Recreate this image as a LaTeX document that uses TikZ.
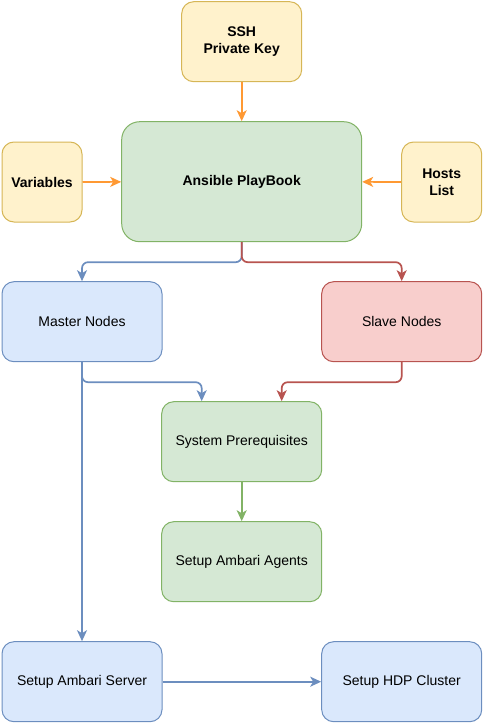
\documentclass[tikz,border=0pt]{standalone}
\usepackage{fontspec}
\setmainfont{Liberation Sans}
\usetikzlibrary{arrows.meta}
\definecolor{yfill}{HTML}{FFF2CC}\definecolor{ydraw}{HTML}{D6B656}
\definecolor{gfill}{HTML}{D5E8D4}\definecolor{gdraw}{HTML}{82B366}
\definecolor{bfill}{HTML}{DAE8FC}\definecolor{bdraw}{HTML}{6C8EBF}
\definecolor{rfill}{HTML}{F8CECC}\definecolor{rdraw}{HTML}{B85450}
\definecolor{orng}{HTML}{FF9933}
\tikzset{
  box/.style={draw, line width=1pt, rounded corners=12pt, minimum width=160pt, minimum height=80pt, inner sep=0pt, align=center, font=\fontsize{14pt}{16.5pt}\selectfont},
  small/.style={box, minimum width=80pt},
  ybox/.style={fill=yfill, draw=ydraw, font=\fontsize{14pt}{16.5pt}\selectfont\bfseries},
  gbox/.style={fill=gfill, draw=gdraw},
  bbox/.style={fill=bfill, draw=bdraw},
  rbox/.style={fill=rfill, draw=rdraw},
  conn/.style={line width=1.7pt, rounded corners=6pt, -{Stealth[length=11pt,width=10pt,inset=3pt]}},
}
\begin{document}
\begin{tikzpicture}[x=1pt,y=-1pt]
\useasboundingbox (0,0) rectangle (483,723);
\node[small,ybox,minimum width=120pt] (ssh) at (241.7,41.7) {SSH\\Private Key};
\node[box,gbox,minimum width=240pt,minimum height=120pt,rounded corners=18pt,font=\fontsize{14pt}{16.5pt}\selectfont\bfseries] (ans) at (241.7,181.7) {Ansible PlayBook};
\node[small,ybox] (var) at (42,182) {Variables};
\node[small,ybox] (hosts) at (441.7,182) {Hosts\\List};
\node[box,bbox] (master) at (82,321.7) {Master Nodes};
\node[box,rbox] (slave) at (401.7,321.7) {Slave Nodes};
\node[box,gbox] (prereq) at (241.7,441.7) {System Prerequisites};
\node[box,gbox] (agents) at (241.7,561.7) {Setup Ambari Agents};
\node[box,bbox] (server) at (82,681.7) {Setup Ambari Server};
\node[box,bbox] (hdp) at (401.7,681.7) {Setup HDP Cluster};

\draw[conn,orng] (ssh) -- (ans);
\draw[conn,orng] (var) -- (ans);
\draw[conn,orng] (hosts) -- (ans);
\draw[conn,bdraw] (ans.south) -- ++(0,20) -| (master.north);
\draw[conn,rdraw] (ans.south) -- ++(0,20) -| (slave.north);
\draw[conn,bdraw] (master.south) -- ++(0,20) -| ([xshift=-40pt]prereq.north);
\draw[conn,rdraw] (slave.south) -- ++(0,20) -| ([xshift=40pt]prereq.north);
\draw[conn,bdraw] (master.south) -- (server.north);
\draw[conn,gdraw] (prereq) -- (agents);
\draw[conn,bdraw] (server) -- (hdp);
\end{tikzpicture}
\end{document}
